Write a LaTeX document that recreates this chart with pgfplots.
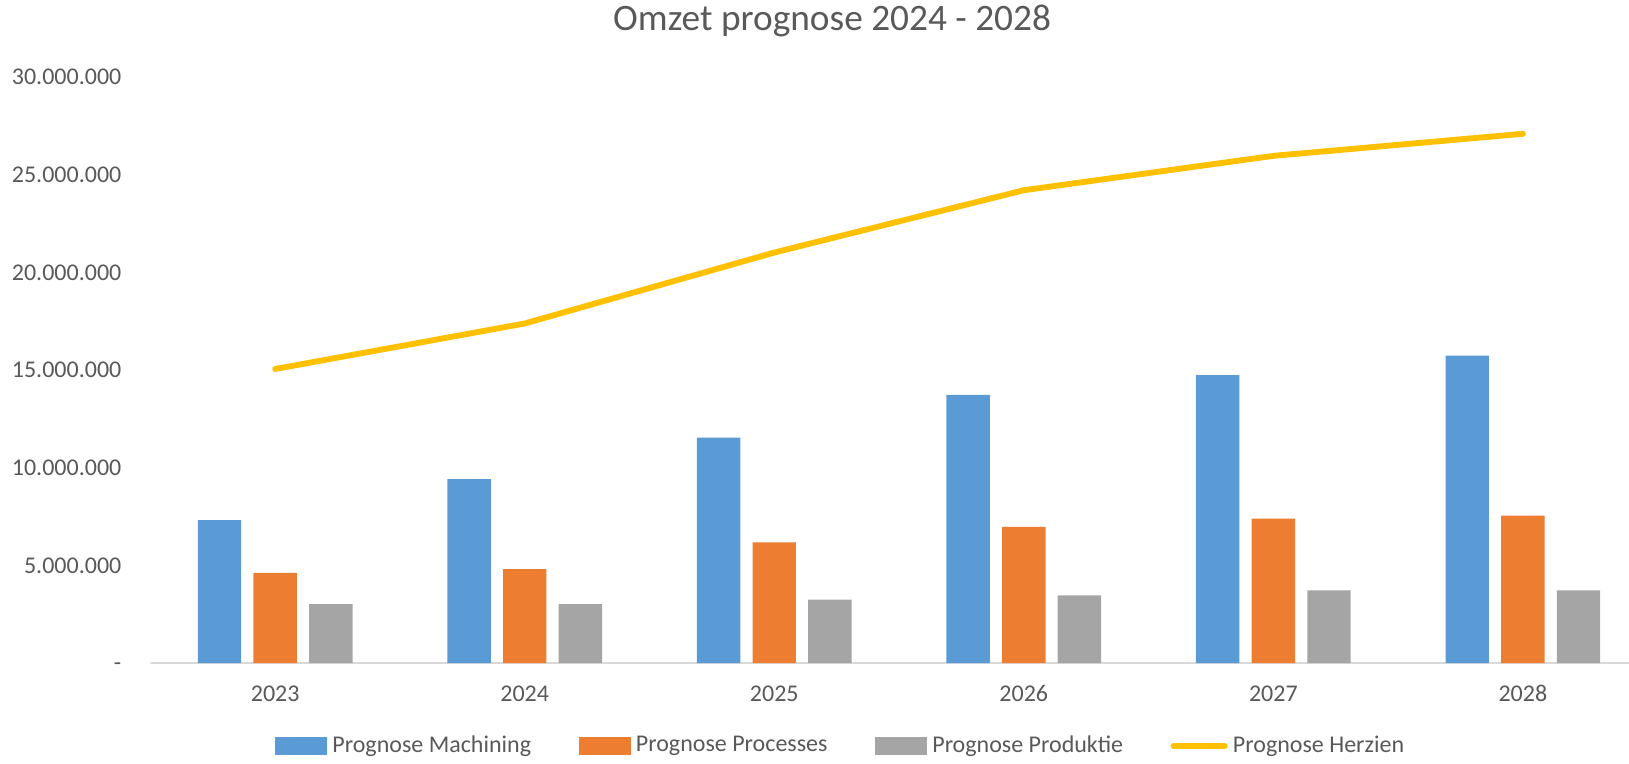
\documentclass[border=0pt]{standalone}
\usepackage{fontspec}
\setmainfont{Carlito}
\usepackage{pgfplots}
\pgfplotsset{compat=1.18}
\definecolor{cblue}{HTML}{5B9BD5}
\definecolor{corange}{HTML}{ED7D31}
\definecolor{cgray}{HTML}{A5A5A5}
\definecolor{cyellow}{HTML}{FFC000}
\definecolor{textgray}{HTML}{595959}
\definecolor{axgray}{HTML}{D9D9D9}
\begin{document}
\begin{tikzpicture}
\useasboundingbox (-56.4pt,-37.5pt) rectangle (554.4pt,248.6pt);
\begin{axis}[
  at={(0,0)}, anchor=south west,
  scale only axis, width=561.4pt, height=219.75pt,
  xmin=-0.5, xmax=5.5, ymin=0, ymax=30000000,
  scaled y ticks=false,
  axis line style={draw=none},
  major tick length=0pt,
  xtick={0,1,2,3,4,5},
  xticklabels={2023,2024,2025,2026,2027,2028},
  ytick={0,5000000,10000000,15000000,20000000,25000000,30000000},
  yticklabels={-\hspace{5.25pt},5.000.000,10.000.000,15.000.000,20.000.000,25.000.000,30.000.000},
  ticklabel style={font=\fontsize{9}{11}\selectfont, text=textgray, inner sep=0pt},
  xticklabel style={anchor=base, yshift=-14.5pt},
  yticklabel style={anchor=base east, xshift=-10.7pt, yshift=-2.9pt},
  legend columns=4,
  legend style={at={(0.4621,-0.1415)}, anchor=center, draw=none, fill=none,
    font=\fontsize{9}{11}\selectfont, text=textgray,
    /tikz/every even column/.append style={column sep=15.8pt},
    inner sep=0pt},
  legend cell align=left,
]
\draw[axgray, line width=0.75pt] (axis cs:-0.5,0) -- (axis cs:5.5,0);
\addplot[ybar, bar width=0.174, bar shift=-0.223, fill=cblue, draw=none,
  legend image code/.code={\fill[cblue] (0pt,-3.4pt) rectangle (19.5pt,3.4pt);}]
  coordinates {(0,7310000) (1,9410000) (2,11540000) (3,13720000) (4,14730000) (5,15730000)};
\addlegendentry{Prognose Machining}
\addplot[ybar, bar width=0.174, bar shift=0, fill=corange, draw=none,
  legend image code/.code={\fill[corange] (0pt,-3.4pt) rectangle (19.5pt,3.4pt);}]
  coordinates {(0,4610000) (1,4810000) (2,6170000) (3,6970000) (4,7390000) (5,7550000)};
\addlegendentry{Prognose Processes}
\addplot[ybar, bar width=0.174, bar shift=0.223, fill=cgray, draw=none,
  legend image code/.code={\fill[cgray] (0pt,-3.4pt) rectangle (19.5pt,3.4pt);}]
  coordinates {(0,3020000) (1,3010000) (2,3240000) (3,3460000) (4,3720000) (5,3720000)};
\addlegendentry{Prognose Produktie}
\addplot[cyellow, line width=2.2pt, line cap=round, line join=round, mark=none,
  legend image code/.code={\draw[cyellow, line width=2.2pt, line cap=round] (0.8pt,0pt) -- (20pt,0pt);}]
  coordinates {(0,15050000) (1,17380000) (2,21010000) (3,24200000) (4,25960000) (5,27090000)};
\addlegendentry{Prognose Herzien}
\end{axis}
\node[font=\fontsize{14}{17}\selectfont, text=textgray, inner sep=0pt] at (255.6pt,240.7pt) {Omzet prognose 2024 - 2028};
\end{tikzpicture}
\end{document}
